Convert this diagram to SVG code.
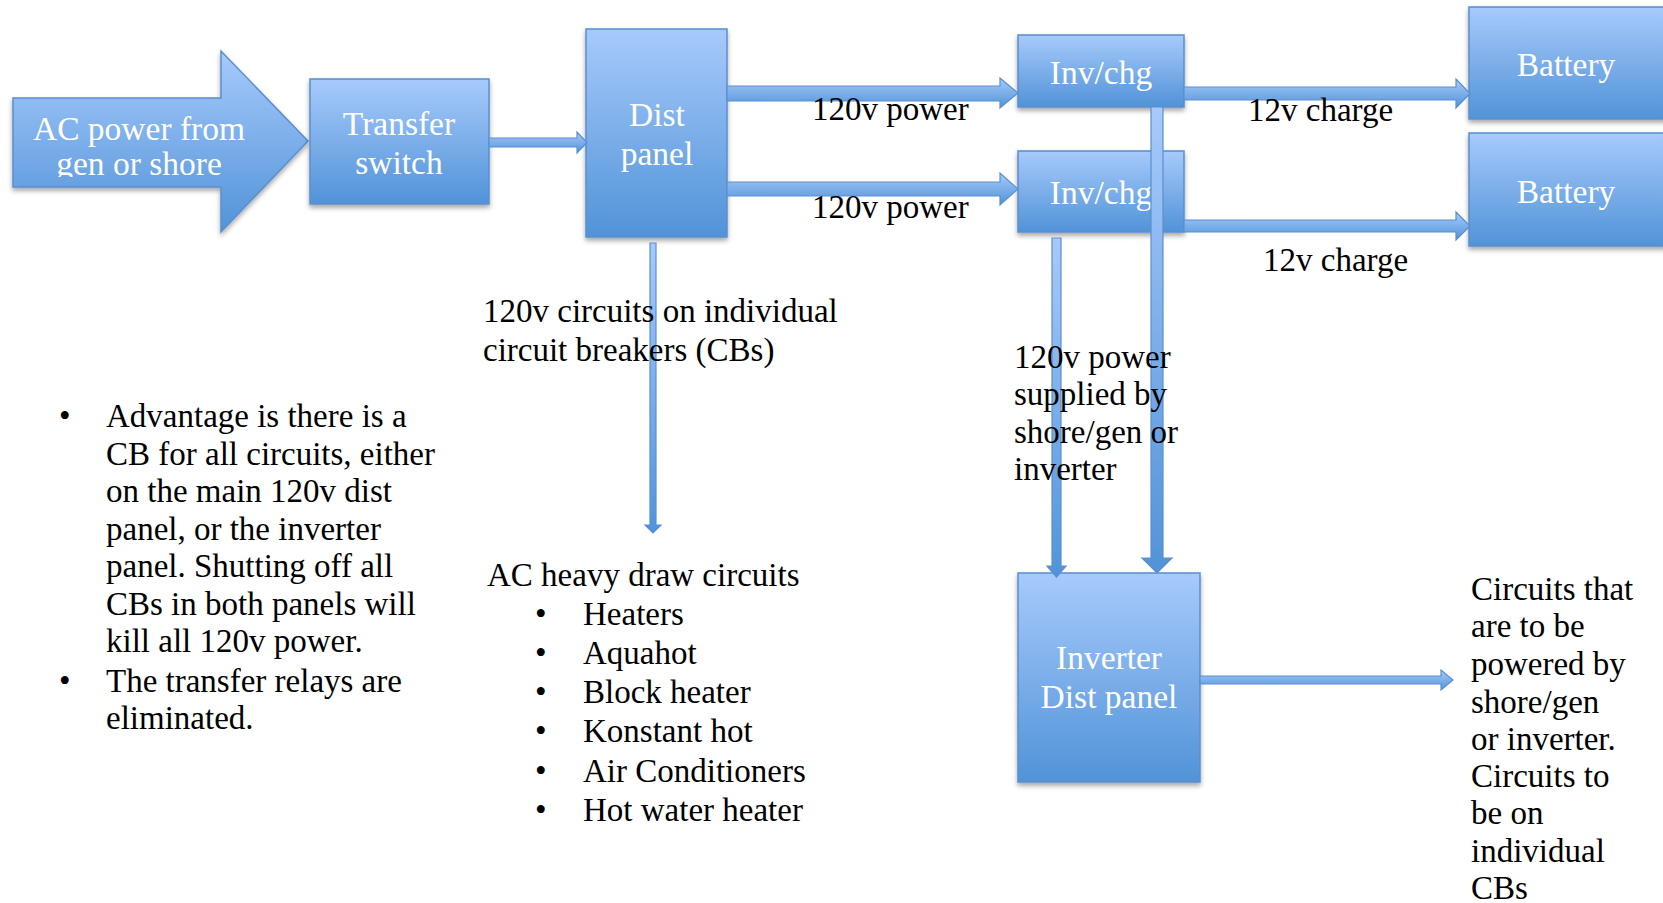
<svg xmlns="http://www.w3.org/2000/svg" width="1663" height="903" viewBox="0 0 1663 903">
<style>
.box{fill:url(#g);stroke:#5a8fcf;stroke-width:1.5;filter:url(#sh)}
.arr{fill:url(#g);stroke:#5a8fcf;stroke-width:1.2}
.nt{font-family:"Liberation Serif",serif;font-size:33.5px;fill:#ffffff;text-anchor:middle}
.bt{font-family:"Liberation Serif",serif;font-size:33px;fill:#000000}
</style>
<defs>
<linearGradient id="g" x1="0" y1="0" x2="0" y2="1">
<stop offset="0" stop-color="#a7cafb"/>
<stop offset="1" stop-color="#5193d8"/>
</linearGradient>
<filter id="sh" x="-10%" y="-10%" width="120%" height="125%">
<feDropShadow dx="0" dy="3" stdDeviation="2.5" flood-color="#000" flood-opacity="0.35"/>
</filter>
<clipPath id="acclip"><rect x="0" y="40" width="320" height="137"/></clipPath>
</defs>

<g id="ac-source">
<path class="box" d="M13,98 L221,98 L221,51 L308,141 L221,232 L221,187 L13,187 Z"/>
<g clip-path="url(#acclip)">
<text class="nt" x="139" y="140">AC power from</text>
<text class="nt" x="139" y="175">gen or shore</text>
</g>
</g>

<g id="transfer-switch">
<rect class="box" x="310" y="79" width="179" height="125"/>
<text class="nt" x="399" y="135">Transfer</text>
<text class="nt" x="399" y="174">switch</text>
</g>

<g id="dist-panel">
<rect class="box" x="586" y="29" width="141" height="208"/>
<text class="nt" x="657" y="126">Dist</text>
<text class="nt" x="657" y="165">panel</text>
</g>

<g id="inv-chg-1">
<rect class="box" x="1018" y="35" width="166" height="72"/>
<text class="nt" x="1101" y="84">Inv/chg</text>
</g>

<g id="inv-chg-2">
<rect class="box" x="1018" y="151" width="166" height="81"/>
<text class="nt" x="1101" y="204">Inv/chg</text>
</g>

<g id="battery-1">
<rect class="box" x="1469" y="7" width="200" height="112"/>
<text class="nt" x="1566" y="76">Battery</text>
</g>

<g id="battery-2">
<rect class="box" x="1469" y="133" width="200" height="113"/>
<text class="nt" x="1566" y="203">Battery</text>
</g>

<g id="inverter-dist-panel">
<rect class="box" x="1018" y="573" width="182" height="209"/>
<text class="nt" x="1109" y="669">Inverter</text>
<text class="nt" x="1109" y="708">Dist panel</text>
</g>

<g id="connectors">
<path class="arr" d="M489,138 L577,138 L577,132 L587,142.5 L577,153 L577,147 L489,147 Z"/>
<path class="arr" d="M727,86 L1000,86 L1000,78 L1018,93 L1000,108 L1000,101 L727,101 Z"/>
<path class="arr" d="M727,182 L1000,182 L1000,173 L1018,189 L1000,205 L1000,196 L727,196 Z"/>
<path class="arr" d="M1184,87 L1456,87 L1456,79 L1470,93.5 L1456,108 L1456,100 L1184,100 Z"/>
<path class="arr" d="M1184,220 L1456,220 L1456,212 L1470,226 L1456,240 L1456,232 L1184,232 Z"/>
<path class="arr" d="M650,243 L656,243 L656,525 L661,525 L653,533 L645,525 L650,525 Z"/>
<path class="arr" d="M1052,238 L1061,238 L1061,566 L1066,566 L1056.5,577 L1047,566 L1052,566 Z"/>
<path class="arr" d="M1151,107 L1163,107 L1163,558 L1172,558 L1157,573 L1142,558 L1151,558 Z"/>
<path class="arr" d="M1200,676 L1441,676 L1441,670 L1453,680 L1441,690 L1441,684 L1200,684 Z"/>
</g>

<g id="labels">
<text class="bt" x="812" y="120">120v power</text>
<text class="bt" x="812" y="218">120v power</text>
<text class="bt" x="1248" y="121">12v charge</text>
<text class="bt" x="1263" y="271">12v charge</text>
<text class="bt" x="483" y="322">120v circuits on individual</text>
<text class="bt" x="483" y="361">circuit breakers (CBs)</text>
<text class="bt" x="1014" y="368">120v power</text>
<text class="bt" x="1014" y="405">supplied by</text>
<text class="bt" x="1014" y="443">shore/gen or</text>
<text class="bt" x="1014" y="480">inverter</text>
</g>

<g id="advantages-text">
<text class="bt" x="59" y="427">•</text>
<text class="bt" x="106" y="427">Advantage is there is a</text>
<text class="bt" x="106" y="464.5">CB for all circuits, either</text>
<text class="bt" x="106" y="502">on the main 120v dist</text>
<text class="bt" x="106" y="539.5">panel, or the inverter</text>
<text class="bt" x="106" y="577">panel. Shutting off all</text>
<text class="bt" x="106" y="614.5">CBs in both panels will</text>
<text class="bt" x="106" y="652">kill all 120v power.</text>
<text class="bt" x="59" y="692">•</text>
<text class="bt" x="106" y="692">The transfer relays are</text>
<text class="bt" x="106" y="729">eliminated.</text>
</g>

<g id="heavy-draw-text">
<text class="bt" x="487" y="586">AC heavy draw circuits</text>
<text class="bt" x="535" y="625">•</text>
<text class="bt" x="583" y="625">Heaters</text>
<text class="bt" x="535" y="664">•</text>
<text class="bt" x="583" y="664">Aquahot</text>
<text class="bt" x="535" y="703">•</text>
<text class="bt" x="583" y="703">Block heater</text>
<text class="bt" x="535" y="742">•</text>
<text class="bt" x="583" y="742">Konstant hot</text>
<text class="bt" x="535" y="782">•</text>
<text class="bt" x="583" y="782">Air Conditioners</text>
<text class="bt" x="535" y="821">•</text>
<text class="bt" x="583" y="821">Hot water heater</text>
</g>

<g id="circuits-text">
<text class="bt" x="1471" y="600">Circuits that</text>
<text class="bt" x="1471" y="637">are to be</text>
<text class="bt" x="1471" y="675">powered by</text>
<text class="bt" x="1471" y="713">shore/gen</text>
<text class="bt" x="1471" y="750">or inverter.</text>
<text class="bt" x="1471" y="787">Circuits to</text>
<text class="bt" x="1471" y="824">be on</text>
<text class="bt" x="1471" y="862">individual</text>
<text class="bt" x="1471" y="899">CBs</text>
</g>
</svg>
